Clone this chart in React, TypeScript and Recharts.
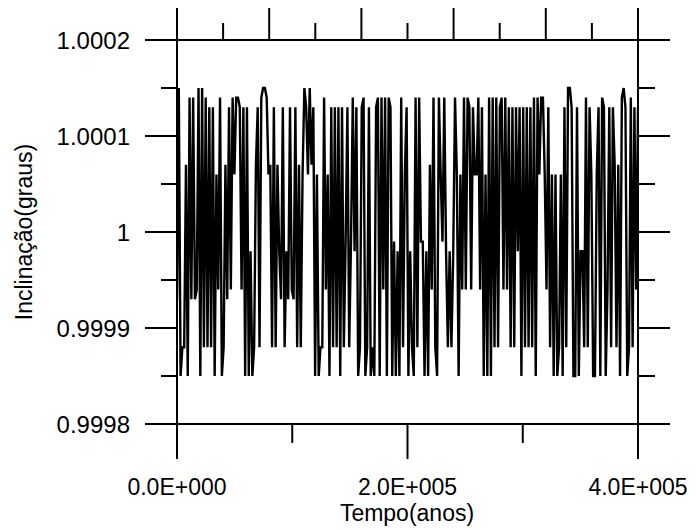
import { LineChart, Line, XAxis, YAxis } from 'recharts'

// inclinação, left to right, in five stretches of the time axis
const part1 = [
  0.99993, 1.00015, 0.99985, 0.99988, 0.99988, 1.00007, 0.99985, 1.00014, 0.99993, 1.00014,
  0.99993, 0.99994, 1.00015, 0.99985, 1.00015, 0.99988, 1.00014, 0.99988, 1.00013, 0.99988,
  1.00013, 0.99985, 1.00006, 0.99994, 1.00014, 0.99985, 0.99988, 1.00007, 0.99993, 1.00013,
  0.99994, 1.00014, 1.00006, 1.00014, 1.00014, 1.00013, 0.99994, 1.00013, 0.99985, 1.00013,
  0.99985, 0.99998, 0.99985, 0.99988, 1.00007, 1.00013, 0.99988, 1.00014, 1.00015,
]
const part2 = [
  1.00015, 1.00014, 1.00006, 1.00007, 0.99988, 1.00013, 0.99988, 1.00007, 0.99998, 0.99993,
  1.00013, 0.99988, 0.99998, 0.99993, 1.00013, 0.99994, 0.99993, 1.00013, 0.99988, 1.00007,
  0.99988, 1.00006, 1.00015, 1.00013, 1.00006, 1.00015, 1.00007, 1.00013, 0.99985, 1.00006,
  0.99985, 0.99988, 0.99988, 1.00014, 0.99994, 1.00006, 0.99985, 1.00013, 0.99988, 1.00013,
  0.99988, 1.00013, 0.99985, 1.00013, 0.99988, 0.99999, 1.00013, 0.99988, 0.99999, 1.00014,
  0.99998, 1.00013,
]
const part3 = [
  0.99985, 0.99988, 1.00013, 1.00014, 0.99985, 0.99988, 1.00013, 0.99985, 0.99988, 0.99985,
  1.00013, 1.00014, 0.99985, 1.00014, 0.99994, 1.00014, 0.99985, 1.00014, 1.00013, 0.99985,
  0.99999, 0.99985, 0.99998, 0.99985, 1.00014, 0.99988, 1.00006, 1.00013, 0.99985, 0.99998,
  0.99988, 0.99985, 1.00014, 0.99988, 1.00014, 0.99999, 0.99999, 0.99985, 0.99998, 0.99985,
  1.00007, 0.99994, 1.00014, 0.99988, 0.99985, 1.00014, 1.00006, 0.99999, 1.00014, 0.99998,
  0.99988,
]
const part4 = [
  0.99998, 0.99988, 0.99998, 1.00014, 1.00006, 0.99985, 1.00006, 0.99994, 1.00014, 0.99994,
  1.00014, 1.00013, 0.99994, 1.00013, 1.00006, 1.00006, 1.00014, 0.99994, 1.00013, 0.99985,
  1.00006, 0.99985, 1.00014, 0.99985, 1.00014, 0.99988, 1.00014, 0.99988, 1.00013, 1.00014,
  0.99994, 1.00014, 0.99994, 1.00013, 0.99988, 1.00013, 0.99988, 1.00013, 0.99998, 1.00013,
  0.99985, 1.00013, 0.99988, 1.00013, 0.99988, 1.00013, 0.99988, 1.00014, 0.99985, 1.00014,
  1.00006, 1.00014,
]
const part5 = [
  1.00014, 1.00006, 0.99994, 1.00013, 0.99988, 1.00006, 0.99985, 1.00006, 0.99985, 0.99988,
  1.00006, 0.99985, 1.00013, 0.99988, 1.00015, 1.00015, 1.00013, 0.99985, 0.99985, 1.00013,
  0.99985, 0.99998, 0.99998, 0.99988, 1.00014, 0.99988, 1.00013, 1.00006, 0.99985, 0.99985,
  1.00006, 1.00013, 0.99985, 1.00014, 1.00013, 0.99985, 0.99994, 1.00013, 0.99988, 1.00013,
  1.00007, 0.99988, 1.00007, 0.99985, 1.00014, 1.00015, 1.00013, 0.99985, 0.99988, 1.00014,
  0.99988, 1.00013, 0.99994, 1.00013,
]

const inclinacao = [...part1, ...part2, ...part3, ...part4, ...part5]
const tMax = 400000
const stepYears = tMax / (inclinacao.length - 1)

const xMajorTicks = [0, 200000, 400000]
const xMajorLabels = ['0.0E+000', '2.0E+005', '4.0E+005']
const xMinorTicks = [100000, 300000]
const topMajorTicks = [0, 80000, 160000, 240000, 320000, 400000]
const topMinorTicks = [40000, 120000, 200000, 280000, 360000]
const yMajorTicks = [0.9998, 0.9999, 1, 1.0001, 1.0002]
const yMajorLabels = ['0.9998', '0.9999', '1', '1.0001', '1.0002']
const yMinorTicks = [0.99985, 0.99995, 1.00005, 1.00015]

const data = inclinacao.map((v, i) => ({ t: i * stepYears, v }))

const FONT = '"Liberation Sans", Arial, sans-serif'
const FS = 23

const findIdx = (list: number[], value: number) => list.findIndex((m) => Math.abs(m - value) < 1e-9)

function BottomTick({ x, y, payload }: any) {
  const i = findIdx(xMajorTicks, payload.value)
  const len = i >= 0 ? 35 : 19
  return (
    <g>
      <line x1={x} x2={x} y1={y} y2={y + len} stroke="#000" strokeWidth={2} />
      {i >= 0 && (
        <text x={x} y={y + 71} textAnchor="middle" fontFamily={FONT} fontSize={FS} fill="#000">
          {xMajorLabels[i]}
        </text>
      )}
    </g>
  )
}

function TopTick({ x, y, payload }: any) {
  const len = findIdx(topMajorTicks, payload.value) >= 0 ? 32 : 17
  return <line x1={x} x2={x} y1={y} y2={y - len} stroke="#000" strokeWidth={2} />
}

function LeftTick({ x, y, payload }: any) {
  const i = findIdx(yMajorTicks, payload.value)
  const len = i >= 0 ? 32 : 16
  return (
    <g>
      <line x1={x} x2={x - len} y1={y} y2={y} stroke="#000" strokeWidth={2} />
      {i >= 0 && (
        <text x={x - 47} y={y} dy="0.36em" textAnchor="end" fontFamily={FONT} fontSize={24} fill="#000">
          {yMajorLabels[i]}
        </text>
      )}
    </g>
  )
}

function RightTick({ x, y, payload }: any) {
  const len = findIdx(yMajorTicks, payload.value) >= 0 ? 32 : 17
  return <line x1={x} x2={x + len} y1={y} y2={y} stroke="#000" strokeWidth={2} />
}

function YTitle() {
  return (
    <text x={32} y={232} transform="rotate(-90, 32, 232)" textAnchor="middle" fontFamily={FONT} fontSize={FS} fill="#000">
      Inclinação(graus)
    </text>
  )
}

function XTitle() {
  return (
    <text x={407} y={521} textAnchor="middle" fontFamily={FONT} fontSize={FS} fill="#000">
      Tempo(anos)
    </text>
  )
}

const axisLine = { stroke: '#000', strokeWidth: 2 }

export default function App() {
  return (
    <div style={{ position: 'absolute', left: 0, top: 0, width: 696, height: 531, background: '#fff' }}>
      <LineChart width={696} height={531} data={data} margin={{ top: 39, right: 57, bottom: 0, left: 0 }}>
        <XAxis
          dataKey="t"
          type="number"
          domain={[0, tMax]}
          allowDataOverflow
          ticks={[...xMajorTicks, ...xMinorTicks].sort((a, b) => a - b)}
          interval={0}
          height={107}
          tickSize={0}
          tickMargin={0}
          tickLine={false}
          axisLine={axisLine}
          tick={<BottomTick />}
          label={<XTitle />}
        />
        <XAxis
          xAxisId="top"
          orientation="top"
          dataKey="t"
          type="number"
          domain={[0, tMax]}
          allowDataOverflow
          ticks={[...topMajorTicks, ...topMinorTicks].sort((a, b) => a - b)}
          interval={0}
          height={1}
          tickSize={0}
          tickMargin={0}
          tickLine={false}
          axisLine={axisLine}
          tick={<TopTick />}
        />
        <YAxis
          type="number"
          domain={[0.9998, 1.0002]}
          allowDataOverflow
          ticks={[...yMajorTicks, ...yMinorTicks].sort((a, b) => a - b)}
          interval={0}
          width={177}
          tickSize={0}
          tickMargin={0}
          tickLine={false}
          axisLine={axisLine}
          tick={<LeftTick />}
          label={<YTitle />}
        />
        <YAxis
          yAxisId="right"
          orientation="right"
          type="number"
          domain={[0.9998, 1.0002]}
          allowDataOverflow
          ticks={[...yMajorTicks, ...yMinorTicks].sort((a, b) => a - b)}
          interval={0}
          width={1}
          tickSize={0}
          tickMargin={0}
          tickLine={false}
          axisLine={axisLine}
          tick={<RightTick />}
        />
        <Line
          type="linear"
          dataKey="v"
          stroke="#000"
          strokeWidth={2.4}
          dot={false}
          activeDot={false}
          isAnimationActive={false}
        />
      </LineChart>
    </div>
  )
}
